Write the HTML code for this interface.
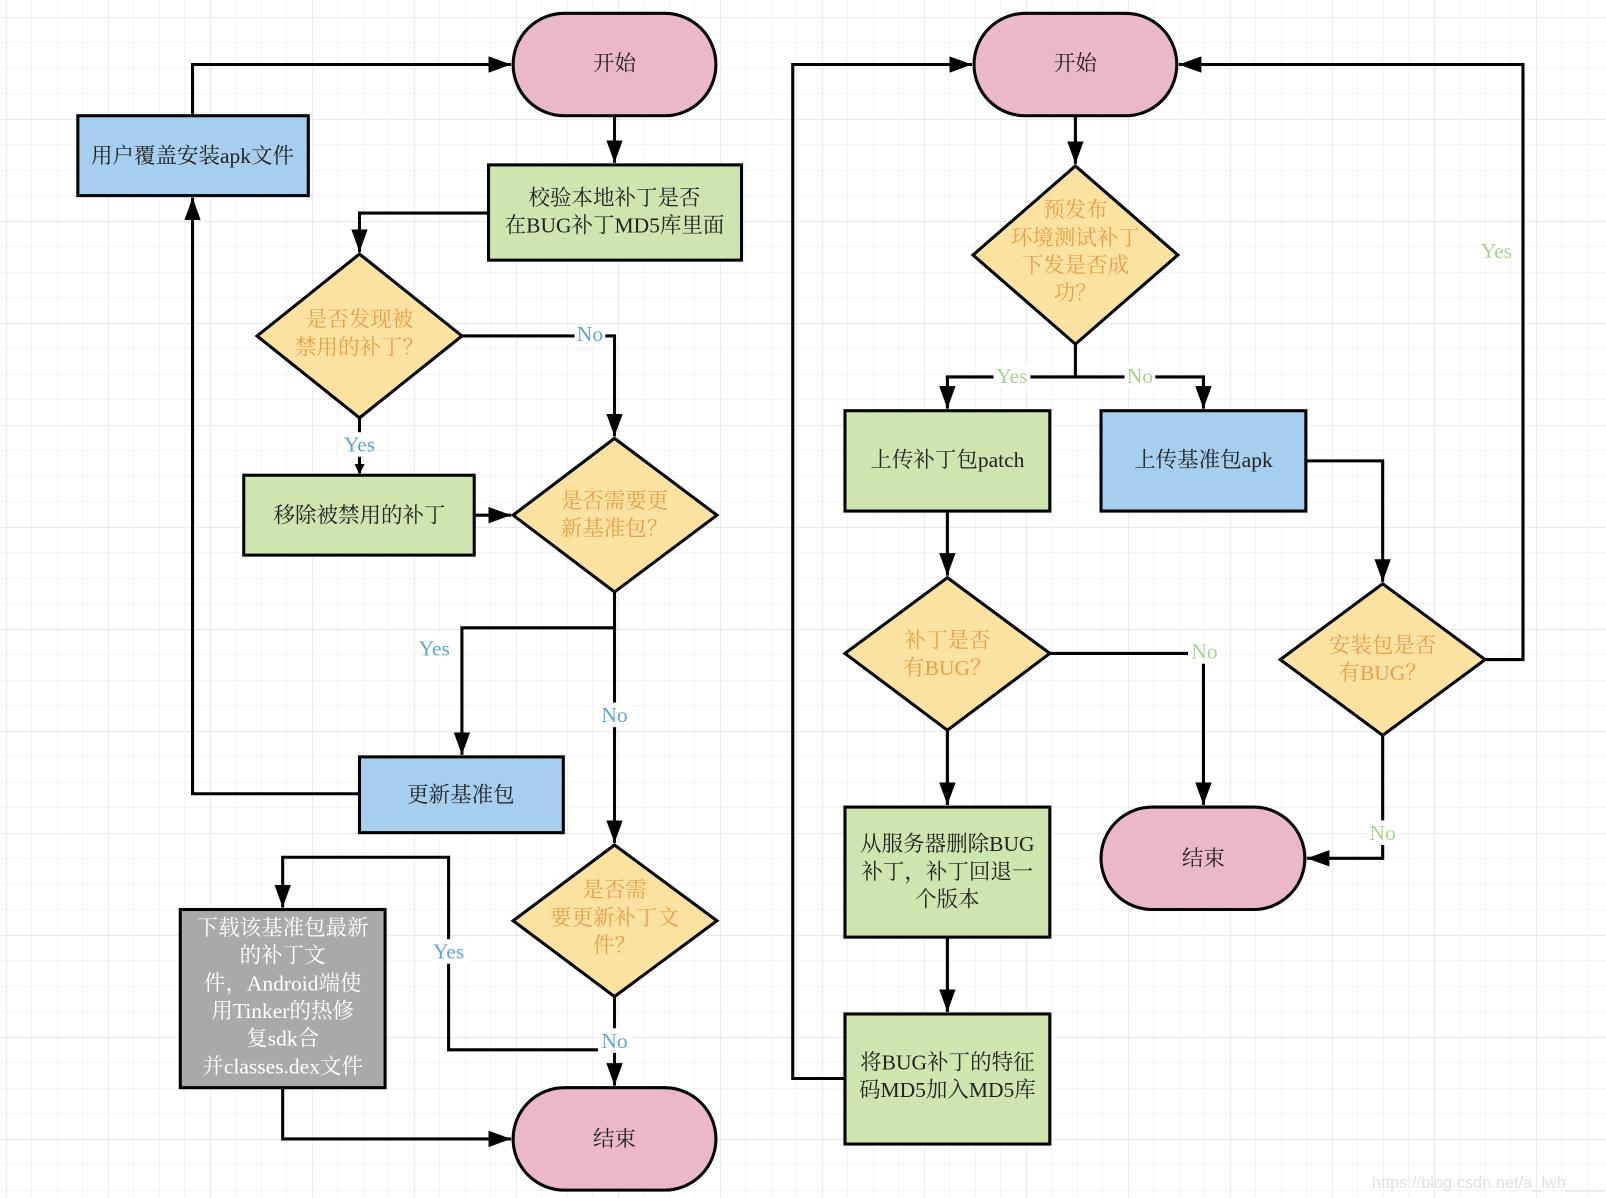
<!DOCTYPE html>
<html><head><meta charset="utf-8"><style>
html,body{margin:0;padding:0;background:#fff;}
svg{display:block;}
text{font-family:"Liberation Serif","Noto Serif CJK SC",serif;font-size:21px;text-anchor:middle;}
.t{fill:#222;}
.q{fill:#E5A04A;}
.lb{fill:#5FA5D8;font-size:21px;}
.lg{fill:#A9D28E;font-size:21px;}
.w{fill:#fff;}
</style></head><body>
<svg width="1606" height="1198" viewBox="0 0 1606 1198" xmlns="http://www.w3.org/2000/svg">
<defs>
<pattern id="g" x="6" y="17" width="25.5" height="25.5" patternUnits="userSpaceOnUse">
<path d="M0 0H25.5M0 0V25.5" stroke="#e8e8e8" stroke-width="1" fill="none"/>
</pattern>
<pattern id="G" x="6" y="17" width="102" height="102" patternUnits="userSpaceOnUse">
<path d="M0 0H102M0 0V102" stroke="#d6d6d6" stroke-width="1" fill="none"/>
</pattern>
<marker id="a" markerWidth="10" markerHeight="10" refX="9" refY="5" orient="auto" markerUnits="userSpaceOnUse" viewBox="0 0 10 10">
<path d="M0 0L10 5L0 10z" fill="#000"/>
</marker>
<marker id="A" markerWidth="22" markerHeight="16" refX="22" refY="8" orient="auto" markerUnits="userSpaceOnUse">
<path d="M0 0L22 8L0 16z" fill="#000"/>
</marker>
</defs>
<rect width="1606" height="1198" fill="#fff"/>
<rect width="1606" height="1198" fill="url(#g)"/>
<rect width="1606" height="1198" fill="url(#G)"/>

<g transform="scale(1.0242)">
<g fill="none" stroke="#000" stroke-width="3">
<path d="M188 113V63H499" marker-end="url(#A)"/>
<path d="M600 113V159" marker-end="url(#A)"/>
<path d="M477 208H351V246" marker-end="url(#A)"/>
<path d="M451 328H600V426" marker-end="url(#A)"/>
<path d="M351 408V462" marker-end="url(#a)"/>
<path d="M463 503H499" marker-end="url(#A)"/>
<path d="M600 578V613H451V737" marker-end="url(#A)"/>
<path d="M600 613V823" marker-end="url(#A)"/>
<path d="M351 775H188V193" marker-end="url(#A)"/>
<path d="M600 973V1060" marker-end="url(#A)"/>
<path d="M600 1025H438V837H276V886" marker-end="url(#A)"/>
<path d="M276 1062V1112H499" marker-end="url(#A)"/>
<path d="M825 1053H774V63H949" marker-end="url(#A)"/>
<path d="M1050 113V160" marker-end="url(#A)"/>
<path d="M1050 336V368H925V399" marker-end="url(#A)"/>
<path d="M1050 368H1175V399" marker-end="url(#A)"/>
<path d="M925 499V562" marker-end="url(#A)"/>
<path d="M1275 450H1350V568" marker-end="url(#A)"/>
<path d="M1025 638H1175V786" marker-end="url(#A)"/>
<path d="M925 713V786" marker-end="url(#A)"/>
<path d="M925 915V988" marker-end="url(#A)"/>
<path d="M1450 644H1487V63H1151" marker-end="url(#A)"/>
<path d="M1350 718V838H1276" marker-end="url(#A)"/>
</g>

<g stroke="#000" stroke-width="3">
<rect x="501" y="13" width="198" height="100" rx="50" fill="#EAB8C9"/>
<rect x="76" y="113" width="225" height="78" fill="#A6CFEF"/>
<rect x="477" y="161" width="247" height="93" fill="#CEE5B0"/>
<path d="M351 248L451 328L351 408L251 328z" fill="#FCE2A0"/>
<rect x="238" y="464" width="225" height="78" fill="#CEE5B0"/>
<path d="M600 428L700 503L600 578L501 503z" fill="#FCE2A0"/>
<rect x="351" y="739" width="199" height="74" fill="#A6CFEF"/>
<path d="M600 825L700 899L600 973L501 899z" fill="#FCE2A0"/>
<rect x="176" y="888" width="200" height="174" fill="#A9A9A9"/>
<rect x="501" y="1062" width="198" height="100" rx="50" fill="#EAB8C9"/>
<rect x="951" y="13" width="198" height="100" rx="50" fill="#EAB8C9"/>
<path d="M1050 162L1150 249L1050 336L950 249z" fill="#FCE2A0"/>
<rect x="825" y="401" width="200" height="98" fill="#CEE5B0"/>
<rect x="1075" y="401" width="200" height="98" fill="#A6CFEF"/>
<path d="M925 564L1025 638L925 713L825 638z" fill="#FCE2A0"/>
<path d="M1350 570L1450 644L1350 718L1250 644z" fill="#FCE2A0"/>
<rect x="825" y="788" width="200" height="127" fill="#CEE5B0"/>
<rect x="1075" y="788" width="199" height="100" rx="50" fill="#EAB8C9"/>
<rect x="825" y="990" width="200" height="127" fill="#CEE5B0"/>
</g>

<g fill="#fff">
<rect x="561" y="316" width="30" height="22"/>
<rect x="333" y="422" width="36" height="24"/>
<rect x="405" y="621" width="38" height="24"/>
<rect x="584" y="686" width="32" height="24"/>
<rect x="420" y="917" width="36" height="24"/>
<rect x="584" y="1004" width="32" height="24"/>
<rect x="970" y="356" width="36" height="22"/>
<rect x="1098" y="356" width="30" height="22"/>
<rect x="1160" y="626" width="32" height="22"/>
<rect x="1443" y="233" width="36" height="24"/>
<rect x="1334" y="801" width="32" height="24"/>
</g>

<text class="t" x="600" y="69">开始</text>
<text class="t" x="188" y="159">用户覆盖安装apk文件</text>
<text class="t" x="600" y="200">校验本地补丁是否</text>
<text class="t" x="600" y="227">在BUG补丁MD5库里面</text>
<text class="q" x="351" y="319">是否发现被</text>
<text class="q" x="351" y="346">禁用的补丁？</text>
<text class="t" x="351" y="510">移除被禁用的补丁</text>
<text class="q" x="600" y="496">是否需要更</text>
<text class="q" x="600" y="523">新基准包？</text>
<text class="t" x="450" y="783">更新基准包</text>
<text class="q" x="600" y="876">是否需</text>
<text class="q" x="600" y="903">要更新补丁文</text>
<text class="q" x="600" y="930">件？</text>
<text class="w" x="276" y="913">下载该基准包最新</text>
<text class="w" x="276" y="940">的补丁文</text>
<text class="w" x="276" y="967">件，Android端使</text>
<text class="w" x="276" y="994">用Tinker的热修</text>
<text class="w" x="276" y="1021">复sdk合</text>
<text class="w" x="276" y="1048">并classes.dex文件</text>
<text class="t" x="600" y="1119">结束</text>

<text class="lb" x="576" y="333">No</text>
<text class="lb" x="351" y="441">Yes</text>
<text class="lb" x="424" y="640">Yes</text>
<text class="lb" x="600" y="705">No</text>
<text class="lb" x="438" y="936">Yes</text>
<text class="lb" x="600" y="1023">No</text>

<text class="t" x="1050" y="69">开始</text>
<text class="q" x="1050" y="212">预发布</text>
<text class="q" x="1050" y="239">环境测试补丁</text>
<text class="q" x="1050" y="266">下发是否成</text>
<text class="q" x="1050" y="293">功？</text>
<text class="t" x="925" y="456">上传补丁包patch</text>
<text class="t" x="1175" y="456">上传基准包apk</text>
<text class="q" x="925" y="632">补丁是否</text>
<text class="q" x="925" y="659">有BUG？</text>
<text class="q" x="1350" y="637">安装包是否</text>
<text class="q" x="1350" y="664">有BUG？</text>
<text class="t" x="925" y="831">从服务器删除BUG</text>
<text class="t" x="925" y="858">补丁，补丁回退一</text>
<text class="t" x="925" y="885">个版本</text>
<text class="t" x="1175" y="845">结束</text>
<text class="t" x="925" y="1044">将BUG补丁的特征</text>
<text class="t" x="925" y="1071">码MD5加入MD5库</text>

<text class="lg" x="988" y="374">Yes</text>
<text class="lg" x="1113" y="374">No</text>
<text class="lg" x="1176" y="643">No</text>
<text class="lg" x="1461" y="252">Yes</text>
<text class="lg" x="1350" y="820">No</text>

<text x="1452" y="1160" style="font-family:'Liberation Sans',sans-serif;font-size:16px;fill:#e2e2e2">https://blog.csdn.net/a_lwh____</text>
</g>
</svg>
</body></html>
